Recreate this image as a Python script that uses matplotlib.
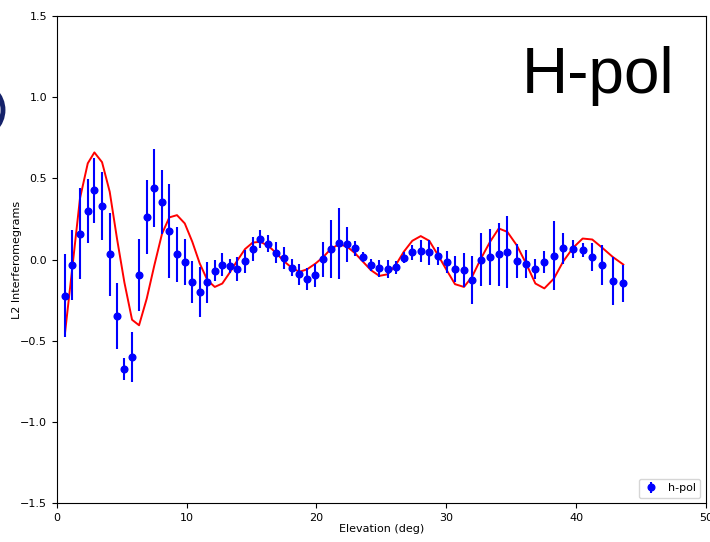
import matplotlib
matplotlib.use("Agg")
import matplotlib.pyplot as plt
from matplotlib.patches import Circle

elevation = [0.64, 1.20, 1.79, 2.39, 2.90, 3.49, 4.08, 4.64, 5.21, 5.80,
             6.34, 6.93, 7.52, 8.11, 8.67, 9.26, 9.86, 10.44, 11.01, 11.60,
             12.17, 12.75, 13.32, 13.91, 14.50, 15.09, 15.68, 16.29, 16.91, 17.50,
             18.10, 18.68, 19.27, 19.91, 20.51, 21.10, 21.74, 22.36, 22.97, 23.61,
             24.20, 24.84, 25.49, 26.13, 26.72, 27.38, 28.03, 28.69, 29.36, 30.03,
             30.67, 31.36, 31.98, 32.67, 33.37, 34.04, 34.70, 35.42, 36.14, 36.86,
             37.55, 38.29, 39.01, 39.76, 40.50, 41.24, 42.01, 42.81, 43.63]

hpol = [-0.223, -0.032, 0.159, 0.297, 0.428, 0.328, 0.032, -0.346, -0.673, -0.599,
        -0.094, 0.262, 0.442, 0.356, 0.176, 0.032, -0.014, -0.137, -0.200, -0.140,
        -0.067, -0.032, -0.042, -0.059, -0.011, 0.067, 0.126, 0.097, 0.042, 0.011,
        -0.050, -0.091, -0.120, -0.097, 0.001, 0.065, 0.100, 0.094, 0.069, 0.017,
        -0.034, -0.054, -0.059, -0.046, 0.013, 0.044, 0.052, 0.044, 0.022, -0.014,
        -0.056, -0.065, -0.124, -0.001, 0.015, 0.032, 0.048, -0.007, -0.028, -0.056,
        -0.015, 0.023, 0.069, 0.065, 0.057, 0.017, -0.032, -0.131, -0.145]

hpol_err = [0.256, 0.216, 0.280, 0.197, 0.200, 0.210, 0.256, 0.203, 0.068, 0.154,
            0.224, 0.227, 0.242, 0.197, 0.289, 0.169, 0.142, 0.128, 0.153, 0.127,
            0.062, 0.070, 0.043, 0.075, 0.072, 0.074, 0.056, 0.052, 0.064, 0.069,
            0.052, 0.067, 0.067, 0.072, 0.106, 0.180, 0.220, 0.108, 0.046, 0.030,
            0.038, 0.050, 0.055, 0.040, 0.034, 0.046, 0.069, 0.079, 0.058, 0.067,
            0.079, 0.105, 0.149, 0.164, 0.172, 0.192, 0.221, 0.106, 0.085, 0.062,
            0.070, 0.212, 0.098, 0.057, 0.043, 0.084, 0.123, 0.147, 0.115]

model = [-0.45, -0.05, 0.377, 0.593, 0.66, 0.60, 0.418, 0.13, -0.14, -0.37,
         -0.404, -0.24, -0.034, 0.16, 0.26, 0.274, 0.223, 0.11, -0.023, -0.126,
         -0.168, -0.147, -0.08, -0.005, 0.065, 0.105, 0.11, 0.085, 0.04, -0.01,
         -0.05, -0.075, -0.06, -0.025, 0.015, 0.065, 0.095, 0.08, 0.04, -0.015,
         -0.065, -0.10, -0.09, -0.03, 0.048, 0.116, 0.145, 0.116, 0.028, -0.065,
         -0.151, -0.168, -0.106, 0.007, 0.11, 0.192, 0.171, 0.089, -0.023, -0.147,
         -0.177, -0.116, -0.01, 0.073, 0.13, 0.124, 0.073, 0.017, -0.03]

fig = plt.figure(figsize=(7.1, 5.42), dpi=100)
ax = fig.add_axes([0.0799, 0.0714, 0.9145, 0.8991])

ax.plot(elevation, model, color="red", lw=1.4, zorder=3)
ax.errorbar(elevation, hpol, yerr=hpol_err, fmt="o", color="blue",
            ms=4.8, elinewidth=1.5, capsize=0, label="h-pol", zorder=4)

ax.set_xlim(0, 50)
ax.set_ylim(-1.5, 1.5)
ax.set_xticks([0, 10, 20, 30, 40, 50])
ax.set_yticks([-1.5, -1.0, -0.5, 0.0, 0.5, 1.0, 1.5])
ax.tick_params(labelsize=8)
ax.set_xlabel("Elevation (deg)", fontsize=8, labelpad=1)
ax.set_ylabel("L2 Interferomegrams", fontsize=8)
ax.yaxis.set_label_coords(-0.053, 0.5)
ax.legend(loc="lower right", fontsize=8, handletextpad=0.8, handlelength=1.4,
          borderaxespad=0.5)

fig.text(0.735, 0.86, "H-pol", fontsize=46, family="Liberation Sans",
         color="black", ha="left", va="center")

fig.patches.append(Circle((-24, 432), 27, transform=None, fill=False,
                          edgecolor="#15226a", lw=3.5))

fig.savefig("out.png", dpi=100)
